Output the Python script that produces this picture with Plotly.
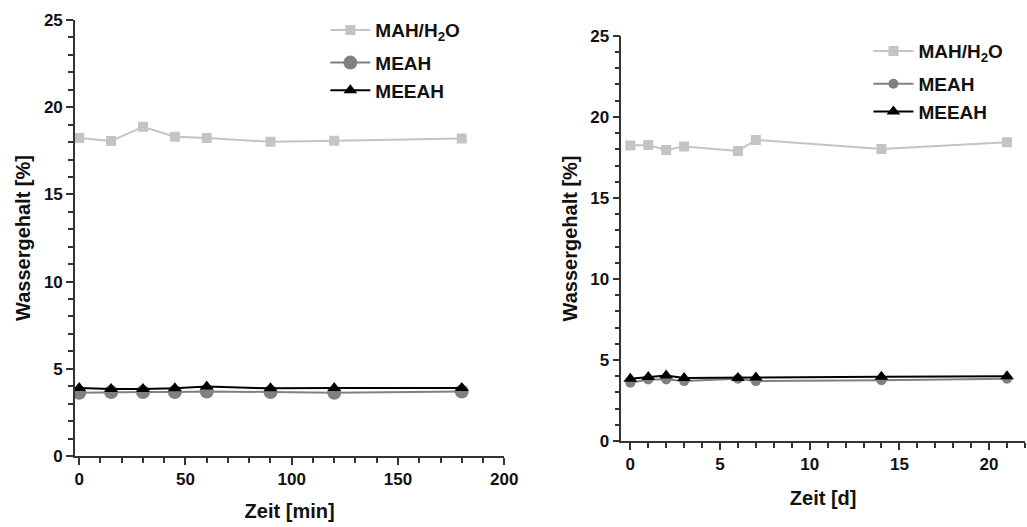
import plotly.graph_objects as go

# Left panel: time in minutes
t_min = [0, 15, 30, 45, 60, 90, 120, 180]
mah_min = [18.23, 18.06, 18.88, 18.31, 18.23, 18.02, 18.08, 18.2]
meah_min = [3.63, 3.67, 3.67, 3.67, 3.7, 3.67, 3.63, 3.7]
meeah_min = [3.9, 3.85, 3.85, 3.88, 3.98, 3.88, 3.9, 3.9]

# Right panel: time in days
t_d = [0, 1, 2, 3, 6, 7, 14, 21]
mah_d = [18.23, 18.27, 17.96, 18.17, 17.9, 18.58, 18.02, 18.44]
meah_d = [3.6, 3.8, 3.8, 3.7, 3.85, 3.7, 3.75, 3.85]
meeah_d = [3.85, 3.95, 4.05, 3.9, 3.9, 3.92, 3.97, 4.0]

names = ["MAH/H<sub>2</sub>O", "MEAH", "MEEAH"]
groups = ["a", "b", "b"]
colors = ["#c4c4c4", "#808080", "#000000"]
symbols = ["square", "circle", "triangle-up"]

FONT = "Liberation Sans, Arial, sans-serif"

fig = go.Figure()

left_sizes = [10, 14, 12]
right_sizes = [10, 10, 12]
for i, ys in enumerate([mah_min, meah_min, meeah_min]):
    fig.add_trace(go.Scatter(
        x=t_min, y=ys, name=names[i], mode="lines+markers",
        legendgroup=groups[i],
        line=dict(color=colors[i], width=2),
        marker=dict(symbol=symbols[i], size=left_sizes[i], color=colors[i]),
        xaxis="x", yaxis="y", legend="legend"))
for i, ys in enumerate([mah_d, meah_d, meeah_d]):
    fig.add_trace(go.Scatter(
        x=t_d, y=ys, name=names[i], mode="lines+markers",
        legendgroup=groups[i] + "2",
        line=dict(color=colors[i], width=2),
        marker=dict(symbol=symbols[i], size=right_sizes[i], color=colors[i]),
        xaxis="x2", yaxis="y2", legend="legend2"))

axis_common = dict(
    showline=True, linecolor="#333333", linewidth=1.5,
    ticks="outside", ticklen=7, tickwidth=1.5, tickcolor="#333333",
    showgrid=False, zeroline=False, automargin=False,
    tickfont=dict(family=FONT, size=17, color="#111111", weight="bold"),
    minor=dict(ticks="outside", ticklen=5, tickwidth=1.5, tickcolor="#333333"),
)
title_font = dict(family=FONT, size=20, color="#111111", weight="bold")
legend_font = dict(family=FONT, size=19, color="#111111", weight="bold")

fig.update_layout(
    width=1027, height=527,
    margin=dict(l=0, r=0, t=0, b=0),
    paper_bgcolor="white", plot_bgcolor="white",
    showlegend=True,
    xaxis=dict(domain=[0.073, 0.491], range=[-2, 200], dtick=50,
               anchor="y", title=dict(text="Zeit [min]", font=title_font, standoff=16),
               **axis_common),
    yaxis=dict(domain=[0.1347, 0.962], range=[0, 25], dtick=5,
               anchor="x", title=dict(text="Wassergehalt [%]", font=title_font, standoff=8),
               **axis_common),
    xaxis2=dict(domain=[0.605, 0.998], range=[-0.5, 22], dtick=5,
                anchor="y2", title=dict(text="Zeit [d]", font=title_font, standoff=18),
                **axis_common),
    yaxis2=dict(domain=[0.163, 0.932], range=[0, 25], dtick=5,
                anchor="x2", title=dict(text="Wassergehalt [%]", font=title_font, standoff=7),
                **axis_common),
    legend=dict(x=0.3168, y=0.979, xanchor="left", yanchor="top",
                bgcolor="rgba(0,0,0,0)", tracegroupgap=5, itemwidth=40,
                font=legend_font),
    legend2=dict(x=0.8456, y=0.939, xanchor="left", yanchor="top",
                 bgcolor="rgba(0,0,0,0)", tracegroupgap=5, itemwidth=40,
                 font=legend_font),
)

fig.write_html(
    "out.html",
    config={"displayModeBar": False},
    post_script="document.body.style.margin='0';document.body.style.overflow='hidden';",
)
